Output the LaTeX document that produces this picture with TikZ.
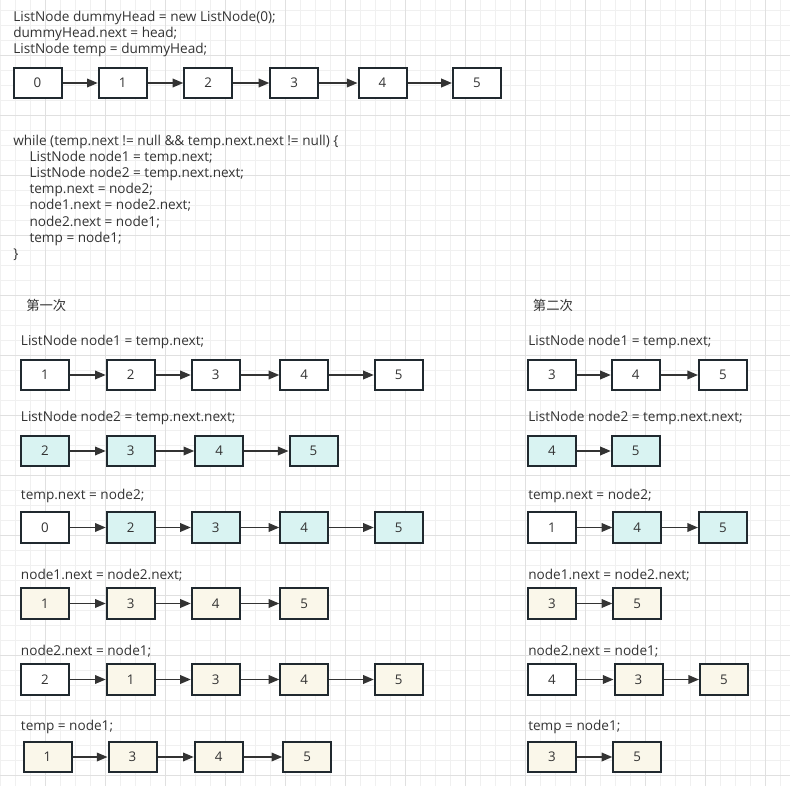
\documentclass[tikz,border=0pt]{standalone}
\usepackage{fontspec}
\setmainfont{Open Sans}
\newfontfamily\cjkfont{Noto Sans CJK SC}
\usetikzlibrary{arrows.meta}
\definecolor{gridminor}{HTML}{F0F0F0}
\definecolor{gridmajor}{HTML}{E0E0E0}
\definecolor{boxline}{HTML}{20292F}
\definecolor{txt}{HTML}{333333}
\definecolor{arrowc}{HTML}{333333}
\definecolor{cyanfill}{HTML}{D9F3F2}
\definecolor{yelfill}{HTML}{FAF7EA}
\newcommand\drawrow[3]{%
  \foreach \x/\l/\s [count=\i] in {#3} {%
    \node[box,fill=\s] (#1-\i) at (\x,#2) {\l};
    \pgfmathtruncatemacro\j{\i-1}
    \ifnum\i>1 \draw[arr] (#1-\j.east) -- (#1-\i.west); \fi
  }%
}
\begin{document}
\begin{tikzpicture}[x=0.75pt,y=-0.75pt,
  box/.style={draw=boxline,line width=1.5pt,minimum width=36pt,minimum height=23pt,
    inner sep=0pt,text=txt,font=\fontsize{10}{12}\selectfont},
  arr/.style={-{Triangle[length=8pt,width=6.5pt]},line width=1.1pt,draw=arrowc},
  code/.style={anchor=base west,inner sep=0pt,text=txt,font=\fontsize{10.2}{12}\selectfont},
  cjk/.style={anchor=base west,inner sep=0pt,text=txt,font=\cjkfont\fontsize{10}{12}\selectfont}]
\useasboundingbox (0,0) rectangle (790,786);
\fill[white] (0,0) rectangle (790,786);
% grid
\foreach \k in {0,...,52} \draw[gridminor,line width=0.75pt] (0.7+15*\k,0) -- (0.7+15*\k,786);
\foreach \k in {0,...,51} \draw[gridminor,line width=0.75pt] (0,10.7+15*\k) -- (790,10.7+15*\k);
\foreach \k in {0,...,12} \draw[gridmajor,line width=0.75pt] (45.7+60*\k,0) -- (45.7+60*\k,786);
\foreach \k in {0,...,12} \draw[gridmajor,line width=0.75pt] (0,55.7+60*\k) -- (790,55.7+60*\k);

% top code
\node[code] (c1) at (13,21) {ListNode dummyHead = new ListNode(0);};
\node[code] (c2) at (13,37.3) {dummyHead.next = head;};
\node[code] (c3) at (13,53.6) {ListNode temp = dummyHead;};
\drawrow{top}{83}{37.5/0/white,122.7/1/white,208.3/2/white,294.3/3/white,382.5/4/white,476.9/5/white}

% while loop
\node[code] (w1) at (13,145) {while (temp.next != null \&\& temp.next.next != null) \{};
\node[code] (w2) at (29.3,161.2) {ListNode node1 = temp.next;};
\node[code] (w3) at (29.3,177.4) {ListNode node2 = temp.next.next;};
\node[code] (w4) at (29.3,193.6) {temp.next = node2;};
\node[code] (w5) at (29.3,209.8) {node1.next = node2.next;};
\node[code] (w6) at (29.3,226) {node2.next = node1;};
\node[code] (w7) at (29.3,242.2) {temp = node1;};
\node[code] (w8) at (13,258.4) {\}};

% first pass
\node[cjk] (h1) at (26,310) {第一次};
\node[code] (la1) at (20.7,345) {ListNode node1 = temp.next;};
\drawrow{a1}{375}{45/1/white,130.7/2/white,215.8/3/white,304.3/4/white,398.8/5/white}
\node[code] (la2) at (20.7,421.7) {ListNode node2 = temp.next.next;};
\drawrow{a2}{451}{45/2/cyanfill,130.7/3/cyanfill,219.2/4/cyanfill,313.5/5/cyanfill}
\node[code] (la3) at (20.7,499.3) {temp.next = node2;};
\drawrow{a3}{527.5}{45/0/white,130.7/2/cyanfill,215.8/3/cyanfill,304.3/4/cyanfill,398.8/5/cyanfill}
\node[code] (la4) at (20.7,579) {node1.next = node2.next;};
\drawrow{a4}{603.5}{45/1/yelfill,130.7/3/yelfill,215.8/4/yelfill,304.3/5/yelfill}
\node[code] (la5) at (20.7,655) {node2.next = node1;};
\drawrow{a5}{679.5}{45/2/white,130.7/1/yelfill,215.8/3/yelfill,304.3/4/yelfill,398.8/5/yelfill}
\node[code] (la6) at (20.7,730) {temp = node1;};
\drawrow{a6}{757}{47.5/1/yelfill,132.5/3/yelfill,218.7/4/yelfill,307.2/5/yelfill}

% second pass
\node[cjk] (h2) at (532.7,310) {第二次};
\node[code] (lb1) at (528,345) {ListNode node1 = temp.next;};
\drawrow{b1}{375}{552/3/white,635.8/4/white,723/5/white}
\node[code] (lb2) at (528,421.7) {ListNode node2 = temp.next.next;};
\drawrow{b2}{451}{552/4/cyanfill,635.8/5/cyanfill}
\node[code] (lb3) at (528,499.3) {temp.next = node2;};
\drawrow{b3}{527.5}{552/1/white,637.3/4/cyanfill,723/5/cyanfill}
\node[code] (lb4) at (528,579) {node1.next = node2.next;};
\drawrow{b4}{603.5}{552/3/yelfill,637.3/5/yelfill}
\node[code] (lb5) at (528,655) {node2.next = node1;};
\drawrow{b5}{679.5}{552/4/white,638.5/3/yelfill,724/5/yelfill}
\node[code] (lb6) at (528,730) {temp = node1;};
\drawrow{b6}{757}{552/3/yelfill,637.3/5/yelfill}
\end{tikzpicture}
\end{document}
